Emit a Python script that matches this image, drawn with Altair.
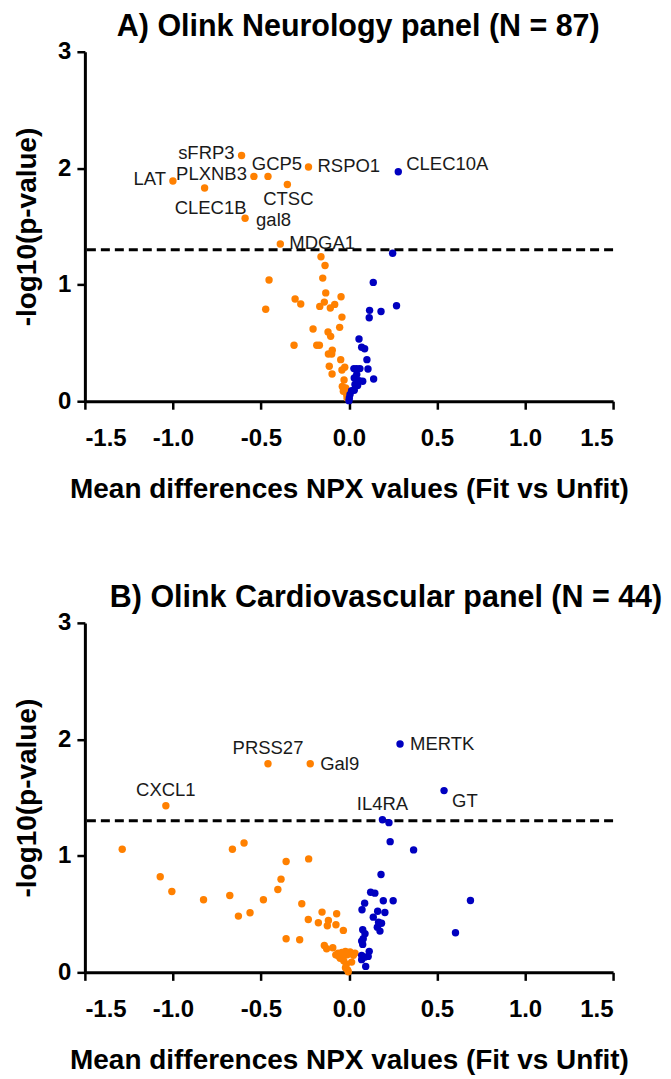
import altair as alt
import pandas as pd

# ---------------- Panel A: Olink Neurology ----------------
a_lab_names = ["sFRP3", "LAT", "PLXNB3", "GCP5", "RSPO1", "CTSC", "CLEC1B", "gal8", "MDGA1", "CLEC10A"]
a_lab_x = [-0.61, -1.00, -0.54, -0.46, -0.23, -0.35, -0.82, -0.59, -0.39, 0.28]
a_lab_y = [2.11, 1.89, 1.93, 1.93, 2.01, 1.86, 1.83, 1.57, 1.35, 1.97]
a_lab_group = ["neg", "neg", "neg", "neg", "neg", "neg", "neg", "neg", "neg", "pos"]

a_orange_x = [-0.159, -0.136, -0.149, -0.454, -0.132, -0.045, -0.306, -0.274, -0.140, -0.166,
              -0.081, -0.106, -0.473, -0.040, -0.053, -0.204, -0.119, -0.104, -0.312, -0.183,
              -0.168, -0.095, -0.117, -0.098, -0.047, -0.112, -0.024, -0.040, -0.096, -0.028,
              -0.038, -0.019, -0.032, -0.013, -0.011]
a_orange_y = [1.24, 1.165, 1.057, 1.04, 0.93, 0.897, 0.877, 0.834, 0.851, 0.814,
              0.831, 0.80, 0.79, 0.722, 0.634, 0.62, 0.594, 0.557, 0.48, 0.48,
              0.48, 0.437, 0.405, 0.405, 0.357, 0.30, 0.291, 0.268, 0.234, 0.183,
              0.126, 0.114, 0.086, 0.057, 0.028]

a_blue_x = [0.248, 0.138, 0.270, 0.117, 0.182, 0.115, 0.057, 0.072, 0.089, 0.102,
            0.028, 0.044, 0.062, 0.108, 0.044, 0.030, 0.058, 0.078, 0.140, 0.034,
            0.049, 0.015, 0.030, 0.006, 0.002, 0.000]
a_blue_y = [1.27, 1.02, 0.82, 0.78, 0.77, 0.717, 0.534, 0.463, 0.451, 0.357,
            0.28, 0.28, 0.28, 0.277, 0.229, 0.20, 0.177, 0.171, 0.191, 0.143,
            0.134, 0.091, 0.094, 0.057, 0.028, 0.005]

a_left = ["sFRP3", "LAT", "PLXNB3"]
a_right = ["RSPO1", "MDGA1"]
a_right_low = ["gal8"]
a_right_up = ["CLEC10A"]
a_above = ["GCP5"]
a_below = ["CTSC"]
a_below_far = ["CLEC1B"]

# ---------------- Panel B: Olink Cardiovascular ----------------
b_lab_names = ["CXCL1", "PRSS27", "Gal9", "MERTK", "GT", "IL4RA"]
b_lab_x = [-1.04, -0.46, -0.22, 0.29, 0.54, 0.19]
b_lab_y = [1.43, 1.79, 1.79, 1.96, 1.56, 1.31]
b_lab_group = ["neg", "neg", "neg", "pos", "pos", "pos"]

b_orange_x = [-1.288, -0.662, -0.596, -0.357, -0.229, -1.072, -0.386, -1.006, -0.826, -0.677,
              -0.628, -0.562, -0.486, -0.404, -0.268, -0.357, -0.280, -0.153, -0.070, -0.231,
              -0.174, -0.117, -0.123, -0.074, -0.032, -0.140, -0.127, -0.092, -0.062, -0.040,
              -0.020, -0.010, -0.050, -0.030, -0.015, -0.020, -0.008, -0.004, -0.060, -0.035,
              -0.075, 0.006, 0.025, 0.015, 0.034]
b_orange_y = [1.057, 1.057, 1.111, 0.951, 0.974, 0.82, 0.80, 0.694, 0.623, 0.66,
              0.483, 0.511, 0.623, 0.711, 0.589, 0.289, 0.28, 0.517, 0.503, 0.454,
              0.426, 0.446, 0.40, 0.409, 0.36, 0.231, 0.203, 0.211, 0.165, 0.17,
              0.18, 0.15, 0.12, 0.10, 0.07, 0.04, 0.02, 0.005, 0.14, 0.14,
              0.15, 0.174, 0.146, 0.088, 0.165]

b_blue_x = [0.227, 0.234, 0.367, 0.182, 0.123, 0.147, 0.089, 0.195, 0.251, 0.690,
            0.074, 0.163, 0.204, 0.138, 0.168, 0.185, 0.161, 0.176, 0.605, 0.078,
            0.091, 0.081, 0.072, 0.078, 0.115, 0.072, 0.091, 0.109, 0.072, 0.095]
b_blue_y = [1.285, 1.122, 1.051, 0.84, 0.688, 0.68, 0.594, 0.614, 0.614, 0.617,
            0.537, 0.525, 0.514, 0.474, 0.431, 0.422, 0.388, 0.354, 0.34, 0.366,
            0.331, 0.289, 0.268, 0.24, 0.18, 0.146, 0.131, 0.137, 0.109, 0.051]

b_above = ["CXCL1", "PRSS27", "IL4RA"]
b_right = ["Gal9", "MERTK"]
b_right_down = ["GT"]

threshold = [1.301]
x_ticks = [-1.5, -1.0, -0.5, 0.0, 0.5, 1.0, 1.5]
y_ticks = [0, 1, 2, 3]

FONT = "Liberation Sans"
ORANGE = "#FF8000"
BLUE = "#0000C0"


def points_df(ox, oy, bx, by, lx, ly, lg):
    rows = [{"x": a, "y": b, "g": "neg"} for a, b in zip(ox, oy)]
    rows += [{"x": a, "y": b, "g": "pos"} for a, b in zip(bx, by)]
    rows += [{"x": a, "y": b, "g": g} for a, b, g in zip(lx, ly, lg)]
    return pd.DataFrame(rows)


def labels_df(names, lx, ly):
    return pd.DataFrame({"name": names, "x": lx, "y": ly})


X_LABEL_EXPR = "datum.value < 0 ? '-' + format(-datum.value, '.1f') : format(datum.value, '.1f')"


def panel(pts, labs, placements, title_text, title_dx):
    xenc = alt.X("x:Q",
                 scale=alt.Scale(domain=[-1.5, 1.5], nice=False, zero=False),
                 axis=alt.Axis(values=x_ticks, labelExpr=X_LABEL_EXPR, grid=False,
                               title="Mean differences NPX values (Fit vs Unfit)",
                               labelPadding=17, titlePadding=25))
    yenc = alt.Y("y:Q",
                 scale=alt.Scale(domain=[0, 3], nice=False),
                 axis=alt.Axis(values=y_ticks, format="d", title="-log10(p-value)", grid=False,
                               labelPadding=6, titlePadding=16))
    pts_layer = alt.Chart(pts).mark_circle(size=55, opacity=1).encode(
        x=xenc, y=yenc,
        color=alt.Color("g:N", scale=alt.Scale(domain=["neg", "pos"], range=[ORANGE, BLUE]),
                        legend=None),
    )
    rule = alt.Chart(pd.DataFrame({"t": threshold})).mark_rule(
        color="black", strokeWidth=3, strokeDash=[9, 5]
    ).encode(y=alt.Y("t:Q"))
    layers = [rule, pts_layer]
    for names, align, dx, dy in placements:
        sub = labs[labs["name"].isin(names)]
        layers.append(
            alt.Chart(sub).mark_text(align=align, baseline="middle", dx=dx, dy=dy,
                                     font=FONT, fontSize=18.5, color="#1a1a1a").encode(
                x="x:Q", y="y:Q", text="name:N")
        )
    return alt.layer(*layers).properties(
        width=529, height=350,
        title=alt.TitleParams(title_text, anchor="start", frame="group", dx=title_dx,
                              fontSize=30.5, font=FONT, fontWeight="bold", color="black",
                              offset=-3),
    )


ptsA = points_df(a_orange_x, a_orange_y, a_blue_x, a_blue_y, a_lab_x, a_lab_y, a_lab_group)
labA = labels_df(a_lab_names, a_lab_x, a_lab_y)
ptsB = points_df(b_orange_x, b_orange_y, b_blue_x, b_blue_y, b_lab_x, b_lab_y, b_lab_group)
labB = labels_df(b_lab_names, b_lab_x, b_lab_y)

placeA = [
    (a_left, "right", -7, -2),
    (a_right, "left", 9, -1),
    (a_right_low, "left", 11, 2),
    (a_right_up, "left", 8, -8),
    (a_above, "center", 9, -12),
    (a_below, "center", 1, 14),
    (a_below_far, "center", 6, 20),
]
placeB = [
    (b_above, "center", 0, -16),
    (b_right, "left", 10, 0),
    (b_right_down, "left", 8, 10),
]

chartA = panel(ptsA, labA, placeA, "A) Olink Neurology panel (N = 87)", 32)
chartB = panel(ptsB, labB, placeB, "B) Olink Cardiovascular panel (N = 44)", 25)

chart = alt.vconcat(
    chartA, chartB, spacing=80, background="white",
    padding={"left": 5, "top": 3, "right": 0, "bottom": 0},
).configure_view(
    stroke=None
).configure_axis(
    grid=False,
    domainColor="black", domainWidth=3,
    tickColor="black", tickWidth=2.5, tickSize=8,
    labelFont=FONT, labelFontSize=24, labelFontWeight="bold", labelColor="black",
    titleFont=FONT, titleFontSize=28, titleFontWeight="bold", titleColor="black",
)

chart.save("out.html", embed_options={"renderer": "svg", "actions": False})
